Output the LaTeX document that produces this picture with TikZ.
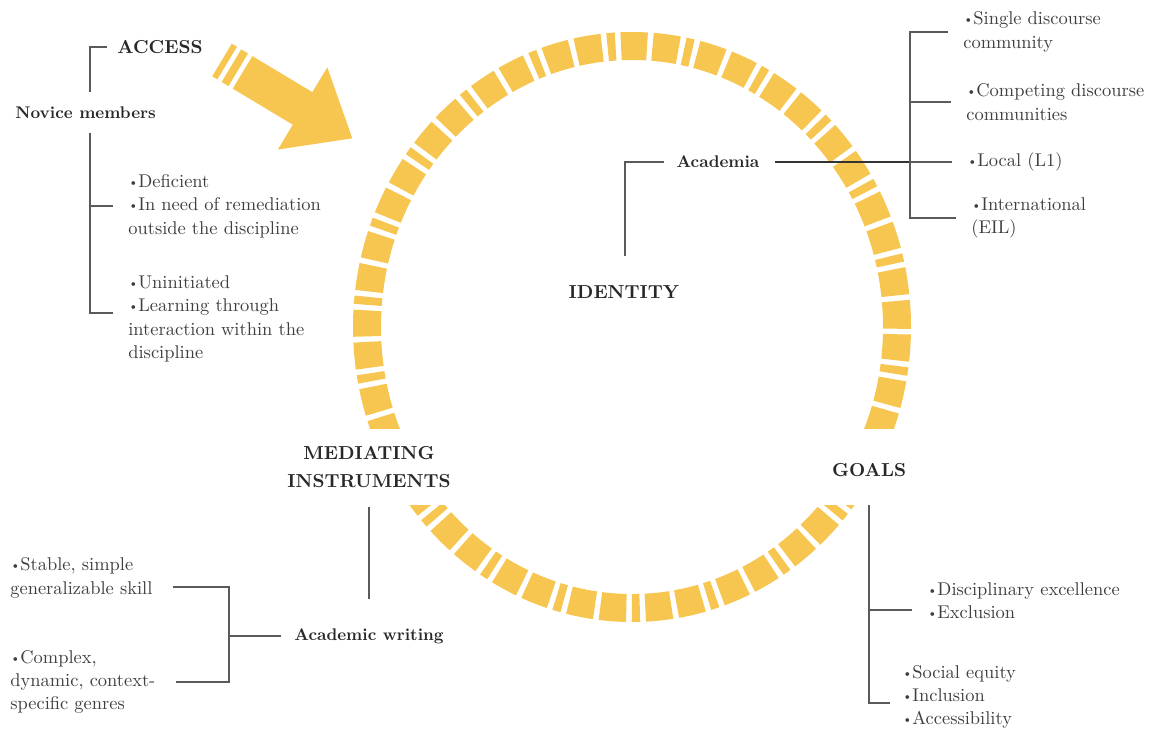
\documentclass[tikz,border=0pt]{standalone}
\usepackage{tikz}
\usetikzlibrary{calc,positioning}
\usepackage{xcolor}

\definecolor{ringgold}{RGB}{247,198,80}
\definecolor{inkdark}{RGB}{40,40,40}
\definecolor{inkgray}{RGB}{62,62,62}
\definecolor{linegray}{RGB}{90,90,90}

\newcommand{\bul}{\raisebox{0.15ex}{\scalebox{0.7}{\textbullet}}}

\tikzset{
  head/.style={font=\bfseries\fontsize{10.7}{16.4}\selectfont, text=inkdark, inner sep=0pt, align=center},
  subhead/.style={font=\bfseries\fontsize{9.6}{12}\selectfont, text=inkdark, inner sep=0pt},
  itemtext/.style={font=\fontsize{10.5}{13.3}\selectfont, text=inkgray, inner sep=0pt, align=left, anchor=west},
  branch/.style={draw=linegray, line width=0.9pt},
  ring/.style={draw=ringgold, line width=0.56cm,
    dash pattern=on 0.52cm off 0.11cm on 0.52cm off 0.11cm on 0.16cm off 0.11cm},
}

\begin{document}
\begin{tikzpicture}[x=0.02cm, y=0.02cm]
    \useasboundingbox (0,0) rectangle (1149,-731);

    % dashed ring, open at both sides
    \begin{scope}
        \clip (300,0) rectangle (960,-428);
        \draw[ring] (632,-327) ellipse [x radius=265, y radius=281];
    \end{scope}
    \begin{scope}
        \clip (300,-505) rectangle (960,-660);
        \draw[ring] (632,-327) ellipse [x radius=265, y radius=281];
    \end{scope}

    % big arrow pointing into the ring
    \begin{scope}[shift={(222,-60)}, rotate=-31]
        \fill[ringgold] (0,-19) rectangle (6,19);
        \fill[ringgold] (11,-19) rectangle (19,19);
        \fill[ringgold] (24,-19) -- (94,-19) -- (94,-48) -- (152,0) -- (94,48) -- (94,19) -- (24,19) -- cycle;
    \end{scope}

    % access
    \node[head, anchor=west] (access) at (117,-47) {ACCESS};
    \node[subhead, anchor=west] (novice) at (15,-113) {Novice members};
    \node[itemtext] (defic) at (128,-206) {\bul Deficient\\\bul In need of remediation\\outside the discipline};
    \node[itemtext] (uninit) at (128,-319) {\bul Uninitiated\\\bul Learning through\\interaction within the\\discipline};

    \coordinate (aspine) at (90,-92);
    \coordinate (nspine) at (90,-133);
    \draw[branch] ([xshift=-0.2cm]access.west) -| (aspine);
    \draw[branch] (nspine) |- ([xshift=-0.3cm]defic.west);
    \draw[branch] (nspine) |- ([xshift=-0.3cm,yshift=0.12cm]uninit.west);

    % identity
    \node[head] (identity) at (624,-292) {IDENTITY};
    \node[subhead] (academia) at (718,-162) {Academia};
    \node[itemtext] (single) at (963,-32) {\bul Single discourse\\community};
    \node[itemtext] (compete) at (966,-102) {\bul Competing discourse\\communities};
    \node[itemtext] (local) at (967,-162) {\bul Local (L1)};
    \node[itemtext] (intl) at (971,-218) {\bul International\\(EIL)};

    \coordinate (idtop) at (625,-256);
    \coordinate (rfork) at (910,-162);
    \draw[branch] (idtop) |- ([xshift=-0.25cm]academia.west);
    \draw[branch, draw=black!80, line width=1.2pt] ([xshift=0.3cm]academia.east) -- (rfork);
    \draw[branch] ([xshift=-0.3cm]single.west) -| (rfork) |- ([xshift=-0.3cm]intl.west);
    \draw[branch] (rfork) |- ([xshift=-0.3cm]compete.west);
    \draw[branch] (rfork) -- ([xshift=-0.3cm]local.west);

    % mediating instruments
    \node[head] (mediate) at (369,-467) {MEDIATING\\INSTRUMENTS};
    \node[subhead] (awrite) at (369,-636) {Academic writing};
    \node[itemtext] (stable) at (10,-578) {\bul Stable, simple\\generalizable skill};
    \node[itemtext] (complex) at (10,-682) {\bul Complex,\\dynamic, context-\\specific genres};

    \coordinate (wfork) at (229,-636);
    \draw[branch] ([yshift=-0.38cm]mediate.south) -- ([yshift=0.58cm]awrite.north);
    \draw[branch] ([xshift=0.4cm,yshift=-0.18cm]stable.east) -| (wfork) |- ([xshift=0.4cm]complex.east);
    \draw[branch] (wfork) -- ([xshift=-0.26cm]awrite.west);

    % goals
    \node[head] (goals) at (869,-470) {GOALS};
    \node[itemtext] (excel) at (927,-601) {\bul Disciplinary excellence\\\bul Exclusion};
    \node[itemtext] (equity) at (902,-697) {\bul Social equity\\\bul Inclusion\\\bul Accessibility};

    \coordinate (gspine) at (869,-505);
    \draw[branch] (gspine) |- ([xshift=-0.3cm,yshift=-0.18cm]excel.west);
    \draw[branch] (gspine) |- ([xshift=-0.24cm,yshift=-0.12cm]equity.west);
\end{tikzpicture}
\end{document}
